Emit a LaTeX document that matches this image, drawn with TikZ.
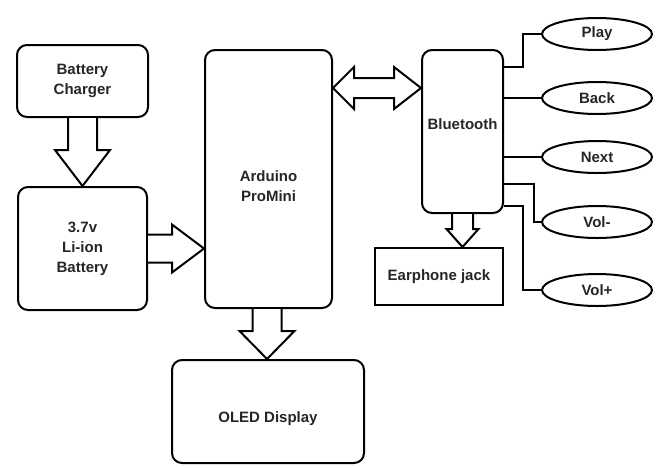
\documentclass[tikz,border=0pt]{standalone}
\usepackage{fontspec}
\setmainfont{Liberation Sans}
\usetikzlibrary{calc,shapes.geometric}
\begin{document}
\begin{tikzpicture}[x=1pt,y=-1pt,
  every node/.style={font=\fontsize{15}{20}\selectfont\bfseries, text=black!85},
  box/.style={draw, line width=2pt, rounded corners=10pt, inner sep=0pt},
  sbox/.style={draw, line width=2pt, inner sep=0pt},
  oval/.style={draw, ellipse, line width=2pt, minimum width=110pt, minimum height=32pt, inner sep=0pt},
  blk/.style={draw, line width=2pt, fill=white, line join=miter},
  wire/.style={draw, line width=2pt}]
\useasboundingbox (0,0) rectangle (658,467);

\node[box, minimum width=131pt, minimum height=72pt, align=center] (charger) at (82.5,81) {Battery\\Charger};
\node[box, minimum width=129pt, minimum height=123pt, align=center] (battery) at (82.5,248.5) {3.7v\\Li-ion\\Battery};
\node[box, minimum width=127pt, minimum height=258pt,
  label={[yshift=-7pt, align=center, font=\fontsize{15}{20}\selectfont\bfseries, text=black!85]center:Arduino\\ProMini}] (arduino) at (268.5,179) {};
\node[box, minimum width=81pt, minimum height=163pt,
  label={[yshift=7pt, font=\fontsize{15}{20}\selectfont\bfseries, text=black!85]center:Bluetooth}] (bt) at (462.5,131.5) {};
\node[sbox, minimum width=128pt, minimum height=57pt] (ear) at (439,276.5) {Earphone jack};
\node[box, minimum width=192pt, minimum height=103pt,
  label={[yshift=-7pt, font=\fontsize{15}{20}\selectfont\bfseries, text=black!85]center:OLED Display}] (oled) at (268,411.5) {};

\node[oval] (play) at (597,34) {Play};
\node[oval] (back) at (597,98) {Back};
\node[oval] (next) at (597,157) {Next};
\node[oval] (volm) at (597,222) {Vol-};
\node[oval] (volp) at (597,290) {Vol+};

% charger -> battery
\draw[blk] let \p1=(charger.south), \p2=(battery.north) in
  (\x1-14.5pt,\y1) -- (\x1-14.5pt,\y2+36pt) -- (\x1-27.5pt,\y2+36pt) -- (\x1,\y2)
  -- (\x1+27.5pt,\y2+36pt) -- (\x1+14.5pt,\y2+36pt) -- (\x1+14.5pt,\y1);
% battery -> arduino
\draw[blk] let \p1=(battery.east), \p2=(arduino.west) in
  (\x1,\y1+14pt) -- (\x2-32pt,\y1+14pt) -- (\x2-32pt,\y1+24pt) -- (\x2,\y1)
  -- (\x2-32pt,\y1-24pt) -- (\x2-32pt,\y1-14pt) -- (\x1,\y1-14pt);
% arduino -> oled
\draw[blk] let \p1=(arduino.south), \p2=(oled.north) in
  (\x1-16pt,\y1) -- (\x1-16pt,\y2+28pt) -- (\x1-29pt,\y2+28pt) -- (\x1-1.5pt,\y2)
  -- (\x1+26pt,\y2+28pt) -- (\x1+13pt,\y2+28pt) -- (\x1+13pt,\y1);
% arduino <-> bluetooth
\draw[blk] let \p1=(arduino.north east), \p2=(bt.north west) in
  (\x1,\y1-39pt) -- (\x1+21pt,\y1-18pt) -- (\x1+21pt,\y1-29pt) -- (\x2-27pt,\y1-29pt)
  -- (\x2-27pt,\y1-18pt) -- (\x2,\y1-39pt) -- (\x2-27pt,\y1-60pt) -- (\x2-27pt,\y1-49pt)
  -- (\x1+21pt,\y1-49pt) -- (\x1+21pt,\y1-60pt) -- cycle;
% bluetooth -> earphone
\draw[blk] let \p1=(bt.south), \p2=(ear.north) in
  (\x1-10.5pt,\y1) -- (\x1-10.5pt,\y2+18pt) -- (\x1-16pt,\y2+18pt) -- (\x1,\y2)
  -- (\x1+16pt,\y2+18pt) -- (\x1+10.5pt,\y2+18pt) -- (\x1+10.5pt,\y1);

% buttons
\draw[wire] ($(bt.north east)+(0,18)$) -- ++(19,0) |- (play.west);
\draw[wire] (bt.east |- back.west) -- (back.west);
\draw[wire] (bt.east |- next.west) -- (next.west);
\draw[wire] ($(bt.north east)+(0,135)$) -- ++(30,0) |- (volm.west);
\draw[wire] ($(bt.north east)+(0,157)$) -- ++(19,0) |- (volp.west);
\end{tikzpicture}
\end{document}
